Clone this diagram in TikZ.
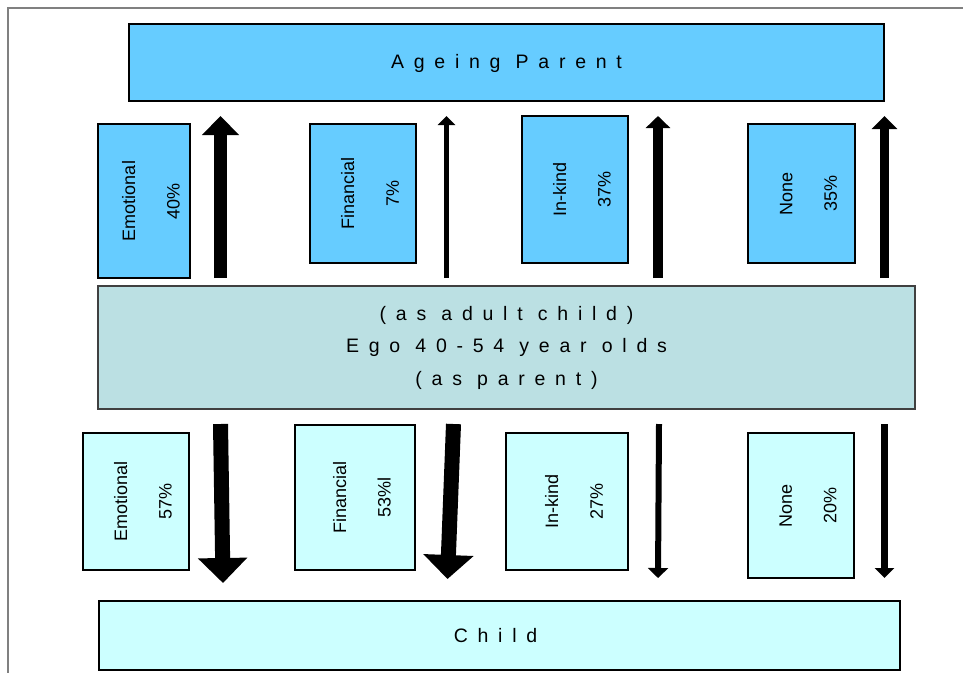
\documentclass[tikz,border=0pt]{standalone}
\usepackage{fontspec}
\setmainfont{Liberation Sans}
\newfontfamily\spacedfont[LetterSpace=50]{Liberation Sans}
\usetikzlibrary{arrows.meta}
\definecolor{parentblue}{HTML}{66CCFF}
\definecolor{egoteal}{HTML}{BBE0E3}
\definecolor{childcyan}{HTML}{CCFFFF}
\definecolor{framegray}{HTML}{808080}
\tikzset{
  box/.style={draw=black, line width=1.2pt, inner sep=0pt},
  upbox/.style={box, fill=parentblue},
  downbox/.style={box, fill=childcyan},
  vlabel/.style={rotate=90, align=center, inner sep=0pt, font=\fontsize{18}{21.6}\selectfont},
  bigtext/.style={align=center, inner sep=0pt, font=\fontsize{19.5}{32.5}\spacedfont},
  blockarrow/.style n args={3}{line width=#1, -{Triangle[width=#2,length=#3]}}
}
\begin{document}
\begin{tikzpicture}[x=1pt,y=-1pt]
\useasboundingbox (0,0) rectangle (963,673);
% outer frame
\draw[framegray, line width=1.5pt] (963,8) -- (8,8) -- (8,673);

% main boxes
\node[box, fill=parentblue, minimum width=755pt, minimum height=77pt] (parent) at (506.5,62.5) {};
\node[bigtext] (parentT) at ([yshift=-1pt]parent.center) {Ageing Parent};
\node[box, draw=black!75, fill=egoteal, minimum width=817pt, minimum height=123pt] (ego) at (506.5,347.5) {};
\node[bigtext] (egoT) at (ego.center) {(as adult child)\\Ego 40-54 year olds\\(as parent)};
\node[box, fill=childcyan, minimum width=801pt, minimum height=69pt] (child) at (499.5,635.5) {};
\node[bigtext] (childT) at ([xshift=-4pt]child.center) {Child};

% upper boxes
\node[upbox, minimum width=92pt, minimum height=154pt] (ue) at (144,201) {};
\node[vlabel] (ueT) at ([xshift=7pt]ue.center) {Emotional\\[23pt]40\%};
\node[upbox, minimum width=106pt, minimum height=139pt] (uf) at (363,193.5) {};
\node[vlabel] (ufT) at ([xshift=7pt]uf.center) {Financial\\[23pt]7\%};
\node[upbox, minimum width=106pt, minimum height=147pt] (ui) at (575,189.5) {};
\node[vlabel] (uiT) at ([xshift=7pt]ui.center) {In-kind\\[23pt]37\%};
\node[upbox, minimum width=107pt, minimum height=139pt] (un) at (801.5,193.5) {};
\node[vlabel] (unT) at ([xshift=7pt]un.center) {None\\[23pt]35\%};

% lower boxes
\node[downbox, minimum width=106pt, minimum height=137pt] (le) at (136,501.5) {};
\node[vlabel] (leT) at ([xshift=7pt]le.center) {Emotional\\[23pt]57\%};
\node[downbox, minimum width=120pt, minimum height=145pt] (lf) at (355,497.5) {};
\node[vlabel] (lfT) at ([xshift=7pt]lf.center) {Financial\\[23pt]53\%l};
\node[downbox, minimum width=122pt, minimum height=137pt] (li) at (567,501.5) {};
\node[vlabel] (liT) at ([xshift=7pt]li.center) {In-kind\\[23pt]27\%};
\node[downbox, minimum width=106pt, minimum height=145pt] (ln) at (801,505.5) {};
\node[vlabel] (lnT) at ([xshift=7pt]ln.center) {None\\[23pt]20\%};

% arrow end points
\coordinate (u1s) at (220.5,278); \coordinate (u1e) at (220.5,116);
\coordinate (u2s) at (446.5,278); \coordinate (u2e) at (446.5,116);
\coordinate (u3s) at (658,278);   \coordinate (u3e) at (658,116);
\coordinate (u4s) at (884.5,278); \coordinate (u4e) at (884.5,116);
\coordinate (d1s) at (220.5,424); \coordinate (d1e) at (223,583);
\coordinate (d2s) at (453.5,424); \coordinate (d2e) at (447.5,579);
\coordinate (d3s) at (659,424);   \coordinate (d3e) at (658,578);
\coordinate (d4s) at (884.5,424); \coordinate (d4e) at (884.5,578);

% upward arrows (to ageing parent)
\draw[blockarrow={13pt}{36pt}{19pt}] (u1s) -- (u1e);
\draw[blockarrow={4.5pt}{17pt}{9pt}] (u2s) -- (u2e);
\draw[blockarrow={10pt}{24pt}{12pt}] (u3s) -- (u3e);
\draw[blockarrow={9pt}{25pt}{13pt}] (u4s) -- (u4e);

% downward arrows (to child)
\draw[blockarrow={15pt}{48pt}{25pt}] (d1s) -- (d1e);
\draw[blockarrow={15pt}{49pt}{24pt}] (d2s) -- (d2e);
\draw[blockarrow={6pt}{20pt}{10pt}] (d3s) -- (d3e);
\draw[blockarrow={7pt}{19pt}{10pt}] (d4s) -- (d4e);
\end{tikzpicture}
\end{document}
